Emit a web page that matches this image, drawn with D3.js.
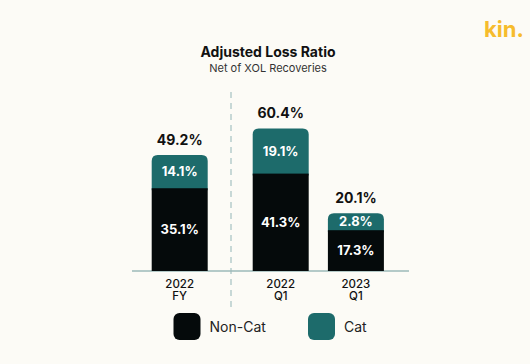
<!DOCTYPE html>
<html>
<head>
<meta charset="utf-8">
<script src="https://cdn.jsdelivr.net/npm/d3@7"></script>
<style>
  html, body { margin: 0; padding: 0; background: #FCFBF6; }
  svg { display: block; font-family: Inter, "Noto Sans", sans-serif; }
</style>
</head>
<body>
<svg id="chart" width="530" height="364"></svg>
<script>
const categories = ["2022 FY", "2022 Q1", "2023 Q1"];
const catLines = [["2022", "FY"], ["2022", "Q1"], ["2023", "Q1"]];
const nonCat = [35.1, 41.3, 17.3];
const cat = [14.1, 19.1, 2.8];
const totals = [49.2, 60.4, 20.1];
const seriesNames = ["Non-Cat", "Cat"];
const colors = { "Non-Cat": "#050A0B", "Cat": "#1D6B6B" };

const svg = d3.select("#chart");
const W = 530, H = 364;
const baseY = 271;
const barW = 56;
const minSeg = 17;

const x = d3.scaleOrdinal().domain(categories).range([179.7, 280.7, 355.9]);
const y = d3.scaleLinear().domain([0, 65]).range([baseY, baseY - 65 * 2.358]);

// Logo
svg.append("text").attr("x", 484).attr("y", 37)
  .attr("font-size", 22).attr("font-weight", 700).attr("fill", "#F6BC2C")
  .text("kin.");

// Title
svg.append("text").attr("x", 268).attr("y", 57).attr("text-anchor", "middle")
  .attr("font-size", 14).attr("font-weight", 700).attr("fill", "#111")
  .text("Adjusted Loss Ratio");
svg.append("text").attr("x", 268).attr("y", 71.5).attr("text-anchor", "middle")
  .attr("font-size", 11).attr("fill", "#333")
  .text("Net of XOL Recoveries");

// Divider
svg.append("line").attr("x1", 231).attr("x2", 231).attr("y1", 92).attr("y2", 308)
  .attr("stroke", "#B5CDCC").attr("stroke-width", 1.5).attr("stroke-dasharray", "6,5");

// Baseline
svg.append("line").attr("x1", 132).attr("x2", 409).attr("y1", baseY).attr("y2", baseY)
  .attr("stroke", "#9DBAB9").attr("stroke-width", 1.5);

function topRoundedRect(x0, y0, w, h, r) {
  return `M${x0},${y0 + h} L${x0},${y0 + r} Q${x0},${y0} ${x0 + r},${y0} L${x0 + w - r},${y0} Q${x0 + w},${y0} ${x0 + w},${y0 + r} L${x0 + w},${y0 + h} Z`;
}

categories.forEach((c, i) => {
  const cx = x(c);
  const x0 = cx - barW / 2;
  const nTop = y(nonCat[i]);
  const catH = Math.max(y(0) - y(cat[i]), minSeg);
  const cTop = nTop - catH;
  // Cat (top, rounded)
  svg.append("path").attr("d", topRoundedRect(x0, cTop, barW, catH + 2, 6))
    .attr("fill", colors["Cat"]);
  // Non-cat
  svg.append("rect").attr("x", x0).attr("y", nTop).attr("width", barW).attr("height", baseY - nTop)
    .attr("fill", colors["Non-Cat"]);
  // segment labels
  svg.append("text").attr("x", cx).attr("y", (cTop + nTop) / 2).attr("dy", "0.36em")
    .attr("text-anchor", "middle").attr("font-size", 13).attr("font-weight", 700).attr("fill", "#fff")
    .text(cat[i].toFixed(1) + "%");
  svg.append("text").attr("x", cx).attr("y", (nTop + baseY) / 2).attr("dy", "0.36em")
    .attr("text-anchor", "middle").attr("font-size", 13).attr("font-weight", 700).attr("fill", "#fff")
    .text(nonCat[i].toFixed(1) + "%");
  // total
  svg.append("text").attr("x", cx).attr("y", cTop - 15.5).attr("dy", "0.36em")
    .attr("text-anchor", "middle").attr("font-size", 14).attr("font-weight", 700).attr("fill", "#111")
    .text(totals[i].toFixed(1) + "%");
  // category labels
  catLines[i].forEach((t, j) => {
    svg.append("text").attr("x", cx).attr("y", 283.5 + j * 12.7).attr("dy", "0.36em")
      .attr("text-anchor", "middle").attr("font-size", 11.5).attr("font-weight", 500).attr("fill", "#111")
      .text(t);
  });
});

// Legend
const legendX = [173.5, 308];
seriesNames.forEach((s, i) => {
  svg.append("rect").attr("x", legendX[i]).attr("y", 313).attr("width", 27).attr("height", 27)
    .attr("rx", 6).attr("fill", colors[s]);
  svg.append("text").attr("x", legendX[i] + 36).attr("y", 326.5).attr("dy", "0.36em")
    .attr("font-size", 14).attr("fill", "#222").text(s);
});
</script>
</body>
</html>
